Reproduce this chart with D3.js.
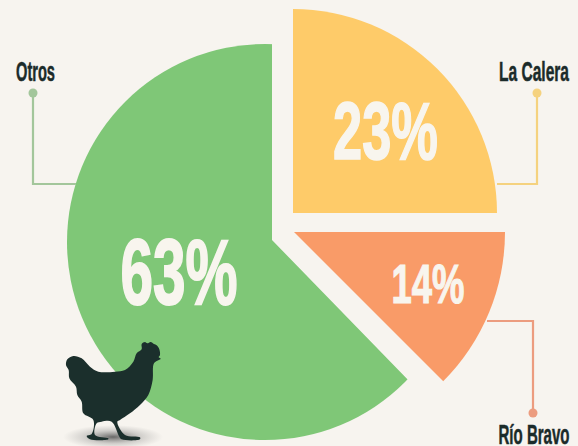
<!DOCTYPE html>
<html>
<head>
<meta charset="utf-8">
<script src="https://cdn.jsdelivr.net/npm/d3@7"></script>
<style>
  html, body { margin: 0; padding: 0; background: #f7f4ef; overflow: hidden; }
  text { font-family: "Liberation Sans Narrow", "Liberation Sans", sans-serif; font-weight: bold; }
</style>
</head>
<body>
<script>
// Data, clockwise from the top as in the picture
var categories = ["La Calera", "Río Bravo", "Otros"];
var labelValues = [23, 14, 63];
// the slices are not drawn true to their labels, these are the shares as drawn
var drawnShares = [25, 12.5, 62.5];
var colors = ["#fecb69", "#f99b68", "#7fc777"];
var lineColors = ["#f5d27f", "#ec9c7f", "#a3c69b"];

var w = 578;
var h = 446;

var svg = d3.select("body").append("svg")
    .attr("width", w)
    .attr("height", h)
    .style("display", "block");
var defs = svg.append("defs");

// per slice layout: apex, circle centre + radius, big number, leader line, label
var layout = [
  {ax: 293, ay: 213, cx: 293, cy: 213, r: 204, tilt: 0,
   num: [385.5, 159, 82, 105, 1.6], pts: [[497, 184], [537, 184], [537, 93]], label: [534, 80.5, 70]},
  {ax: 294, ay: 232, cx: 294, cy: 232, r: 211, tilt: 0,
   num: [428, 302.5, 56, 73, 1.2], pts: [[487, 321], [533, 321], [533, 413]], label: [534, 444, 71]},
  {ax: 272, ay: 240, cx: 265, cy: 242, r: 198, tilt: 0.014,
   num: [179, 304, 92, 117, 2], pts: [[76, 184], [33, 184], [33, 93]], label: [35.5, 80.5, 39]}
];

var pie = d3.pie().sort(null)(drawnShares);
var arc = d3.arc().innerRadius(0);

// each slice is a circle cut to its wedge, the apex sits a bit off the circle centre
var slices = svg.append("g").attr("class", "slices");
pie.forEach(function(d, i) {
  var l = layout[i];
  var steps = d3.range(0, 13).map(function(k) {
    var a = d.startAngle + l.tilt + (d.endAngle - d.startAngle - l.tilt) * k / 12;
    return [l.ax + 900 * Math.sin(a), l.ay - 900 * Math.cos(a)];
  });
  defs.append("clipPath").attr("id", "wedge" + i)
    .append("path")
      .attr("d", d3.line()([[l.ax, l.ay]].concat(steps)) + "Z");
  slices.append("g")
      .attr("clip-path", "url(#wedge" + i + ")")
    .append("path")
      .attr("transform", "translate(" + l.cx + "," + l.cy + ")")
      .attr("d", arc.outerRadius(l.r)({startAngle: 0, endAngle: 2 * Math.PI}))
      .attr("fill", colors[i]);
});

// squeeze a text to a width, none of the installed fonts is this condensed
function fitText(sel, x, y, width) {
  var len = sel.node().getComputedTextLength();
  sel.attr("text-anchor", "middle")
     .attr("transform", "translate(" + x + "," + y + ") scale(" + (width / len) + ",1)");
}

// Leader lines with a dot at the end
var lineGen = d3.line();
categories.forEach(function(c, i) {
  var l = layout[i];
  svg.append("path")
      .attr("d", lineGen(l.pts))
      .attr("fill", "none")
      .attr("stroke", lineColors[i])
      .attr("stroke-width", 2.2);
  var end = l.pts[l.pts.length - 1];
  svg.append("circle")
      .attr("cx", end[0])
      .attr("cy", end[1])
      .attr("r", 4.5)
      .attr("fill", lineColors[i]);
  var name = svg.append("text")
      .attr("font-size", 27)
      .attr("fill", "#1b2b2a")
      .attr("stroke", "#1b2b2a")
      .attr("stroke-width", 0.5)
      .text(c);
  fitText(name, l.label[0], l.label[1], l.label[2]);
  var num = svg.append("text")
      .attr("font-size", l.num[2])
      .attr("fill", "#f8f5ee")
      .attr("stroke", "#f8f5ee")
      .attr("stroke-width", l.num[4])
      .text(labelValues[i] + "%");
  fitText(num, l.num[0], l.num[1], l.num[3]);
});

// Hen with its shadow
var grad = defs.append("radialGradient").attr("id", "shadow");
grad.append("stop").attr("offset", "0%").attr("stop-color", "#444").attr("stop-opacity", 0.8);
grad.append("stop").attr("offset", "55%").attr("stop-color", "#777").attr("stop-opacity", 0.3);
grad.append("stop").attr("offset", "100%").attr("stop-color", "#888").attr("stop-opacity", 0);

svg.append("ellipse")
    .attr("cx", 113)
    .attr("cy", 437)
    .attr("rx", 50)
    .attr("ry", 12)
    .attr("fill", "url(#shadow)");

var hen = [[82,118],[100,108],[125,115],[150,140],[175,155],[225,155],[255,150],[280,125],[290,100],[305,88],[305,72],[315,66],[322,70],[332,66],[342,72],[350,76],[358,88],[360,105],[356,112],[362,116],[342,130],[338,180],[325,225],[300,255],[270,280],[240,300],[232,305],[255,345],[300,352],[300,358],[245,358],[238,350],[215,305],[185,305],[170,310],[165,345],[205,355],[205,358],[150,358],[140,348],[155,342],[160,300],[130,280],[125,245],[112,225],[108,200],[88,175],[86,150],[78,135]];

svg.append("path")
    .attr("transform", "translate(40,320) scale(0.3333)")
    .attr("d", d3.line().curve(d3.curveCatmullRomClosed.alpha(0.5))(hen))
    .attr("fill", "#1b2f2c");
</script>
</body>
</html>
